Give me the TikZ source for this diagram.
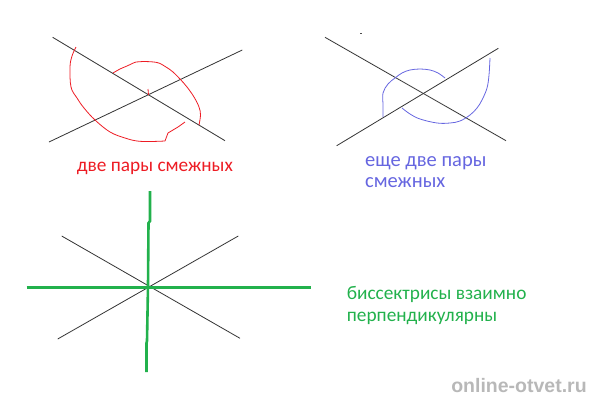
\documentclass[tikz,border=0pt]{standalone}
\usepackage{fontspec}
\setmainfont{Carlito}
\newfontfamily\wmfont{Liberation Sans}
\definecolor{paintred}{HTML}{ED1C24}
\definecolor{paintblue}{HTML}{6666E0}
\definecolor{paintgreen}{HTML}{22B14C}
\tikzset{
  ray/.style={draw=black!80, line width=0.8pt},
  freehand/.style={line width=0.8pt, smooth, tension=0.6},
  bisector/.style={draw=paintgreen, line width=2.6pt},
  caption/.style={anchor=base west, inner sep=0pt, font=\fontsize{19.3}{23}\selectfont}
}
\begin{document}
\begin{tikzpicture}[x=1pt,y=-1pt]
\useasboundingbox (0,0) rectangle (596,400);
% end points of the lines
\coordinate (a1) at (52.7, 37.3);
\coordinate (a2) at (225, 140.7);
\coordinate (a3) at (49, 142);
\coordinate (a4) at (242.3, 50);
\coordinate (b1) at (325, 37.3);
\coordinate (b2) at (506, 140.7);
\coordinate (b3) at (336.7, 145.7);
\coordinate (b4) at (498.3, 48.3);
\coordinate (c1) at (61.7, 236);
\coordinate (c2) at (240, 338.3);
\coordinate (c3) at (57.7, 339);
\coordinate (c4) at (238.3, 236);
\foreach \p/\q in {a1/a2, a3/a4, b1/b2, b3/b4, c1/c2, c3/c4}
  \draw[ray] (\p) -- (\q);
% red loops
\draw[paintred, freehand] plot coordinates {(76,47) (72,56) (70,67) (71,87) (77,98) (84,108) (95,120) (110,132) (125,138) (137,141) (150,141.5) (165,141)};
\draw[paintred, line width=0.8pt] (165,141) -- (168,133) -- (178,127) -- (185,122);
\draw[paintred, freehand] plot coordinates {(113,73) (120,69) (127,66) (136,62) (143,61.5) (157,62.5) (166,67) (173,72) (180,79) (187,87) (194,97) (199,107) (200.5,115) (199,125)};
\draw[paintred, line width=0.8pt] (148,89) -- (148.5,95);
% blue loops
\draw[paintblue, freehand] plot coordinates {(383,117) (383,105) (383,93) (388,84) (395,78) (402,73) (410,70) (420,69) (430,70) (438,73) (445,78)};
\draw[paintblue, freehand] plot coordinates {(402,108) (410,114) (420,119) (437,123) (450,123) (460,121) (470,115) (477,108) (482,100) (487,88) (489,75) (490,58)};
\fill[black!70] (359.5,32.5) rectangle (361.5,34);
% bisectors
\coordinate (h1) at (26.7, 287.7);
\coordinate (h2) at (311, 287.7);
\coordinate (v1) at (150, 191);
\coordinate (v2) at (146.5, 372);
\draw[bisector] (h1) -- (h2);
\draw[bisector] (v1) -- (150,221) -- (148.5,223) -- (148,286) -- (147,341) -- (146.5,343) -- (v2);
% captions
\node[caption, text=paintred] (adjred) at (76.7, 171) {две пары смежных};
\node[caption, text=paintblue, font=\fontsize{20.5}{24}\selectfont] (adjblue1) at (365, 166) {еще две пары};
\node[caption, text=paintblue, font=\fontsize{20.5}{24}\selectfont] (adjblue2) at (365, 187) {смежных};
\node[caption, text=paintgreen] (bis1) at (346.7, 299.3) {биссектрисы взаимно};
\node[caption, text=paintgreen] (bis2) at (346.7, 321.7) {перпендикулярны};
% watermark
\node[inner sep=0pt, text=black!28, font=\wmfont\bfseries\fontsize{19.5}{21}\selectfont] (mark) at (519, 385.7) {online-otvet.ru};
\end{tikzpicture}
\end{document}
